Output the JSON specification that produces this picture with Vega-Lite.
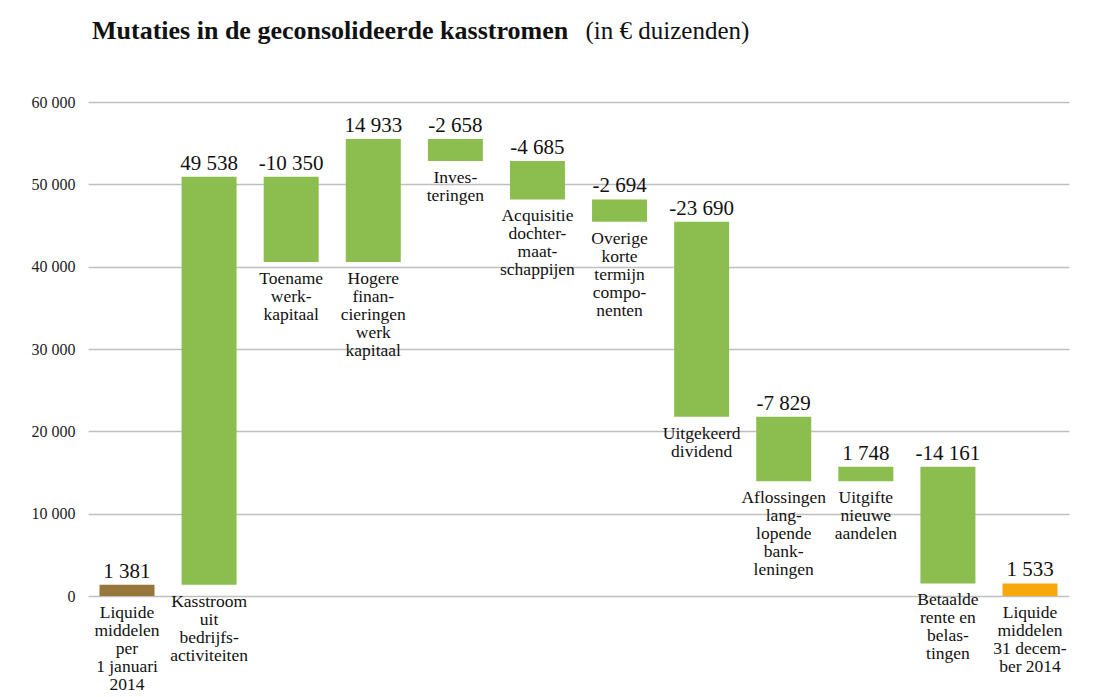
{
  "$schema": "https://vega.github.io/schema/vega-lite/v6.json",
  "width": 981,
  "height": 494,
  "autosize": {"type": "none"},
  "padding": {"left": 88, "top": 102, "right": 29, "bottom": 101},
  "background": "white",
  "title": {
    "text": "Mutaties in de geconsolideerde kasstromen",
    "anchor": "start",
    "frame": "group",
    "dx": 4,
    "offset": -26,
    "font": "Liberation Serif",
    "fontSize": 26,
    "fontWeight": "bold",
    "color": "#111111"
  },
  "data": {
    "values": [
      {"label": "Liquide|middelen|per|1 januari|2014", "amount": 1381, "bottom": 0, "top": 1381, "kind": "begin"},
      {"label": "Kasstroom|uit|bedrijfs-|activiteiten", "amount": 49538, "bottom": 1381, "top": 50919, "kind": "change"},
      {"label": "Toename|werk-|kapitaal", "amount": -10350, "bottom": 40569, "top": 50919, "kind": "change"},
      {"label": "Hogere|finan-|cieringen|werk|kapitaal", "amount": 14933, "bottom": 40569, "top": 55502, "kind": "change"},
      {"label": "Inves-|teringen", "amount": -2658, "bottom": 52844, "top": 55502, "kind": "change"},
      {"label": "Acquisitie|dochter-|maat-|schappijen", "amount": -4685, "bottom": 48159, "top": 52844, "kind": "change"},
      {"label": "Overige|korte|termijn|compo-|nenten", "amount": -2694, "bottom": 45465, "top": 48159, "kind": "change"},
      {"label": "Uitgekeerd|dividend", "amount": -23690, "bottom": 21775, "top": 45465, "kind": "change"},
      {"label": "Aflossingen|lang-|lopende|bank-|leningen", "amount": -7829, "bottom": 13946, "top": 21775, "kind": "change"},
      {"label": "Uitgifte|nieuwe|aandelen", "amount": 1748, "bottom": 13946, "top": 15694, "kind": "change"},
      {"label": "Betaalde|rente en|belas-|tingen", "amount": -14161, "bottom": 1533, "top": 15694, "kind": "change"},
      {"label": "Liquide|middelen|31 decem-|ber 2014", "amount": 1533, "bottom": 0, "top": 1533, "kind": "end"}
    ]
  },
  "encoding": {
    "x": {
      "field": "label",
      "type": "nominal",
      "sort": null,
      "axis": null,
      "scale": {"paddingInner": 0.33, "paddingOuter": 0.14}
    }
  },
  "layer": [
    {
      "mark": {"type": "bar"},
      "encoding": {
        "y": {
          "field": "bottom",
          "type": "quantitative",
          "scale": {"domain": [0, 60000], "nice": false},
          "axis": {
            "values": [0, 10000, 20000, 30000, 40000, 50000, 60000],
            "format": ",d",
            "title": "(in € duizenden)",
            "titleAngle": 0,
            "titleX": 497,
            "titleY": -64,
            "titleAlign": "left",
            "titleBaseline": "alphabetic",
            "titleFont": "Liberation Serif",
            "titleFontSize": 25,
            "titleFontWeight": "normal",
            "titleColor": "#111111",
            "domain": false,
            "ticks": false,
            "grid": true,
            "gridColor": "#BFBFBF",
            "gridWidth": 1.5,
            "labelPadding": 13,
            "labelFont": "Liberation Serif",
            "labelFontSize": 16,
            "labelColor": "#222222"
          }
        },
        "y2": {"field": "top"},
        "color": {
          "field": "kind",
          "type": "nominal",
          "scale": {"domain": ["begin", "change", "end"], "range": ["#96763A", "#8BBE4F", "#F6A80C"]},
          "legend": null
        }
      }
    },
    {
      "mark": {"type": "text", "baseline": "alphabetic", "dy": -7, "font": "Liberation Serif", "fontSize": 21, "color": "#111111"},
      "encoding": {
        "y": {"field": "top", "type": "quantitative"},
        "text": {"field": "amount", "type": "quantitative", "format": ",d"}
      }
    },
    {
      "mark": {"type": "text", "baseline": "top", "dy": 8, "font": "Liberation Serif", "fontSize": 17.5, "lineBreak": "|", "lineHeight": 18, "color": "#111111"},
      "encoding": {
        "y": {"field": "bottom", "type": "quantitative"},
        "text": {"field": "label", "type": "nominal"}
      }
    }
  ],
  "config": {
    "view": {"stroke": null},
    "locale": {
      "number": {"decimal": ",", "thousands": " ", "grouping": [3], "currency": ["€ ", ""], "minus": "-"}
    }
  }
}
